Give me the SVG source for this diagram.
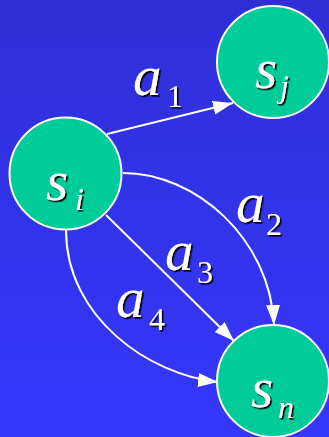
<svg xmlns="http://www.w3.org/2000/svg" width="329" height="437" viewBox="0 0 329 437">
  <defs>
    <linearGradient id="bg" x1="0" y1="0" x2="0" y2="1">
      <stop offset="0" stop-color="#2f2fd8"/>
      <stop offset="1" stop-color="#3636fb"/>
    </linearGradient>
    <marker id="arrow" markerUnits="userSpaceOnUse" markerWidth="22" markerHeight="16" refX="20" refY="7" orient="auto">
      <path d="M0,0 L20,7 L0,14 z" fill="#ffffff"/>
    </marker>
    <filter id="shadow" x="-20%" y="-20%" width="150%" height="150%">
      <feDropShadow dx="1.6" dy="1.6" stdDeviation="0.4" flood-color="#000000" flood-opacity="1"/>
    </filter>
    <style>
      .node { fill: #00cc99; stroke: #ffffff; stroke-width: 2; }
      .edge { fill: none; stroke: #ffffff; stroke-width: 2; marker-end: url(#arrow); }
      .lbl { font-family: "Liberation Serif", "Times New Roman", serif; font-style: italic; fill: #ffffff; filter: url(#shadow); }
      .big { font-size: 57px; }
      .sub { font-size: 32px; }
      .num { font-style: normal; }
    </style>
  </defs>
  <rect x="0" y="0" width="329" height="437" fill="url(#bg)"/>
  <g id="connectors">
    <path id="e1" class="edge" d="M107,134 L233,103"/>
    <path id="e2" class="edge" d="M123,173 C195,173 270,238 274,325"/>
    <path id="e3" class="edge" d="M106,215 L234,341"/>
    <path id="e4" class="edge" d="M66,230 C66,318 150,375 218,382"/>
  </g>
  <g id="labels">
    <text class="lbl big" x="133" y="95">a<tspan class="sub num" x="167" y="107">1</tspan></text>
    <text class="lbl big" x="236" y="222">a<tspan class="sub num" x="266" y="235">2</tspan></text>
    <text class="lbl big" x="165" y="270">a<tspan class="sub num" x="197" y="283">3</tspan></text>
    <text class="lbl big" x="116" y="317">a<tspan class="sub num" x="149" y="330">4</tspan></text>
  </g>
  <g id="node-si">
    <circle class="node" cx="65.5" cy="173.5" r="56"/>
    <text class="lbl big" x="46" y="200">s<tspan class="sub" x="75" y="210">i</tspan></text>
  </g>
  <g id="node-sj">
    <circle class="node" cx="273" cy="62" r="56"/>
    <text class="lbl big" x="255" y="88">s<tspan class="sub" x="280" y="97">j</tspan></text>
  </g>
  <g id="node-sn">
    <circle class="node" cx="273" cy="381" r="56"/>
    <text class="lbl big" x="251" y="407">s<tspan class="sub" x="278" y="418">n</tspan></text>
  </g>
</svg>
